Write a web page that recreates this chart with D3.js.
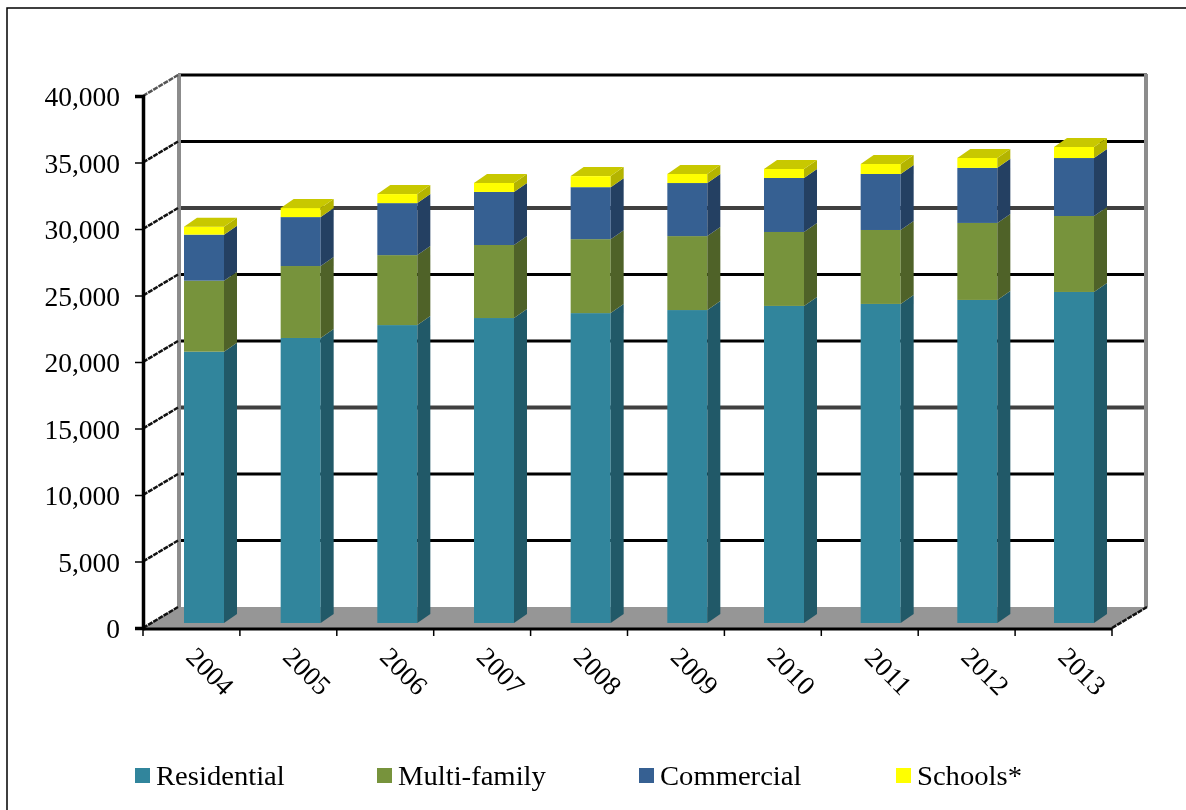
<!DOCTYPE html>
<html><head><meta charset="utf-8">
<script src="https://cdn.jsdelivr.net/npm/d3@7"></script>
<style>html,body{margin:0;padding:0;background:#fff}svg{display:block;filter:blur(0.35px)}text{font-family:"Liberation Serif",serif;fill:#000}</style>
</head><body><svg id="c" width="1186" height="810"></svg>
<script>
const years=["2004","2005","2006","2007","2008","2009","2010","2011","2012","2013"];
const residential=[20400,21430,22400,22930,23300,23530,23840,23990,24290,24890];
const multiFamily=[5340,5410,5260,5490,5560,5560,5560,5560,5790,5710];
const commercial=[3460,3680,3910,3990,3910,3990,4060,4210,4140,4360];
const schools=[600,680,680,680,830,680,680,750,750,830];
const seriesNames=["Residential","Multi-family","Commercial","Schools*"];
const front=["#31859c","#77933c","#366092","#ffff00"];
const side=["#215968","#4f6228","#244062","#b4b400"];
const topColor="#c8c800";
const yTicks=[0,5000,10000,15000,20000,25000,30000,35000,40000];

const svg=d3.select("#c");
const y=d3.scaleLinear().domain([0,40000]).range([628,96]);
const x=d3.scaleBand().domain(years).range([143,1112]);
const barX=d3.scalePoint().domain(years).range([184,1054]);
const depth={x:35,y:-21};
const barDepth={x:13,y:-9};
const barLift=-5;
const barW=40;

svg.append("path").attr("d","M7,810V8H1186").attr("fill","none").attr("stroke","#000").attr("stroke-width",1.5);

svg.append("polygon").attr("fill","#969696")
 .attr("points",[[x.range()[0],y(0)],[x.range()[1],y(0)],[x.range()[1]+depth.x,y(0)+depth.y],[x.range()[0]+depth.x,y(0)+depth.y]].map(p=>p.join(",")).join(" "));

const heavy=new Set([15000,30000]);
svg.selectAll(".grid").data(yTicks.slice(1)).join("line")
 .attr("x1",x.range()[0]+depth.x).attr("x2",x.range()[1]+depth.x)
 .attr("y1",d=>y(d)+depth.y).attr("y2",d=>y(d)+depth.y)
 .attr("stroke",d=>heavy.has(d)?"#404040":"#000")
 .attr("stroke-width",d=>heavy.has(d)?4:3);

[x.range()[0]+depth.x+1,x.range()[1]+depth.x-1].forEach(px=>{
 svg.append("line").attr("x1",px).attr("x2",px).attr("y1",y(40000)+depth.y-1).attr("y2",y(0)+depth.y)
  .attr("stroke","#8c8c8c").attr("stroke-width",4);
});

svg.selectAll(".diag").data(yTicks).join("line")
 .attr("x1",x.range()[0]).attr("x2",x.range()[0]+depth.x)
 .attr("y1",d=>y(d)).attr("y2",d=>y(d)+depth.y)
 .attr("stroke",d=>d===40000?"#555":"#111").attr("stroke-width",2.5).attr("stroke-dasharray","5 1");
svg.append("line").attr("x1",x.range()[1]).attr("x2",x.range()[1]+depth.x)
 .attr("y1",y(0)).attr("y2",y(0)+depth.y)
 .attr("stroke","#111").attr("stroke-width",2.5).attr("stroke-dasharray","5 1");

const stacks=[residential,multiFamily,commercial,schools];
years.forEach((yr,i)=>{
 const left=barX(yr);
 let base=0;
 stacks.forEach((vals,s)=>{
  const top=base+vals[i];
  const y0=y(base)+barLift, y1=y(top)+barLift;
  const g=svg.append("g");
  g.append("rect").attr("x",left).attr("y",y1).attr("width",barW).attr("height",y0-y1).attr("fill",front[s]);
  g.append("polygon").attr("fill",side[s]).attr("points",[
   [left+barW,y0],[left+barW+barDepth.x,y0+barDepth.y],[left+barW+barDepth.x,y1+barDepth.y],[left+barW,y1]
  ].map(p=>p.join(",")).join(" "));
  if(s===stacks.length-1){
   g.append("polygon").attr("fill",topColor).attr("points",[
    [left,y1],[left+barW,y1],[left+barW+barDepth.x,y1+barDepth.y],[left+barDepth.x,y1+barDepth.y]
   ].map(p=>p.join(",")).join(" "));
  }
  base=top;
 });
});

const yAxis=svg.append("g").attr("transform","translate(143,0)")
 .call(d3.axisLeft(y).tickValues(yTicks).tickSize(8).tickPadding(15).tickFormat(d3.format(",")));
yAxis.select(".domain").attr("stroke","#000").attr("stroke-width",3.5);
yAxis.selectAll(".tick line").attr("stroke","#000").attr("stroke-width",1.5);
yAxis.selectAll("text").attr("font-size",27.5).attr("font-family","Liberation Serif").attr("fill","#000").attr("dy","0.36em");

const edges=d3.range(0,11).map(i=>x.range()[0]+i*x.step());
svg.append("line").attr("x1",x.range()[0]).attr("x2",x.range()[1]).attr("y1",y(0)+1).attr("y2",y(0)+1).attr("stroke","#000").attr("stroke-width",3);
svg.selectAll(".xt").data(edges).join("line").attr("x1",d=>d).attr("x2",d=>d).attr("y1",y(0)).attr("y2",y(0)+8).attr("stroke","#000").attr("stroke-width",1.5);
svg.selectAll(".xl").data(years).join("text")
 .attr("font-size",27).attr("text-anchor","middle")
 .attr("transform",d=>`translate(${x(d)+x.bandwidth()/2+19},${y(0)+43}) rotate(45)`)
 .attr("dy","0.35em").text(d=>d);

const legendX=[135,377,639,896];
const legendTextX=[156,398,660,917];
seriesNames.forEach((n,i)=>{
 svg.append("rect").attr("x",legendX[i]).attr("y",768).attr("width",15).attr("height",15).attr("fill",front[i]);
 svg.append("text").attr("font-size",26.5)
  .attr("transform",`translate(${legendTextX[i]},785) scale(1.08,1)`).text(n);
});
</script></body></html>
